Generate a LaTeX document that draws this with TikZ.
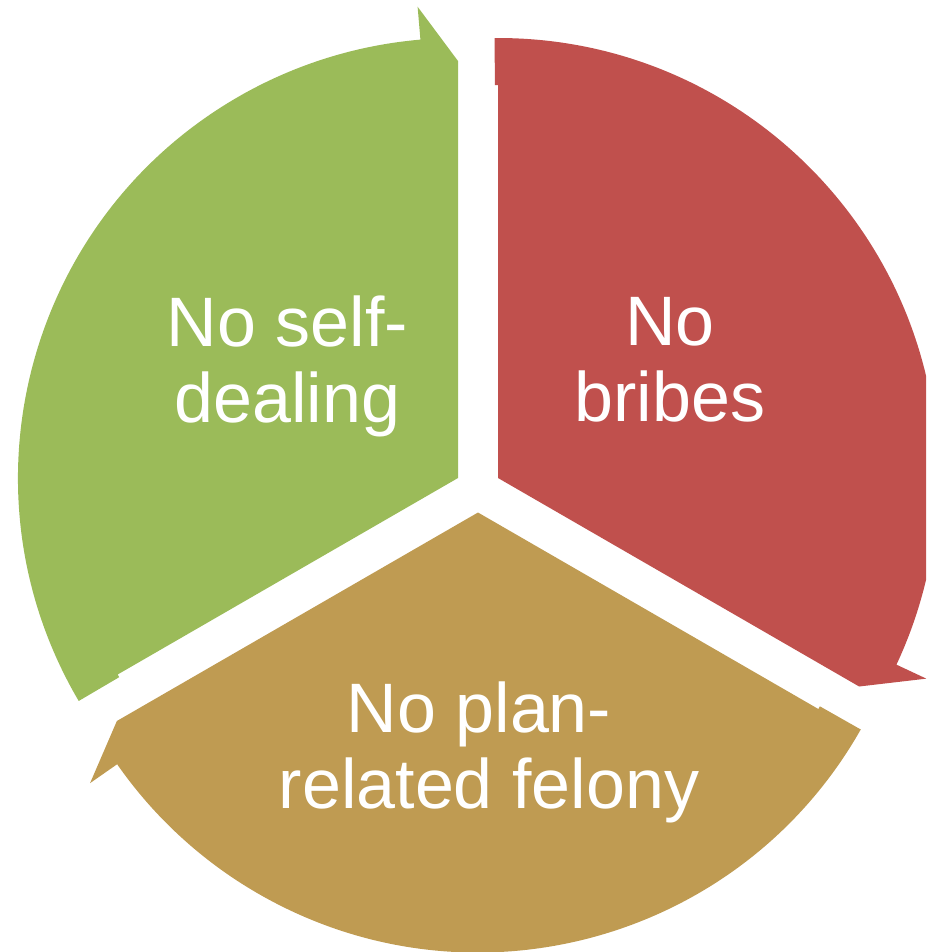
\documentclass[tikz,border=0pt]{standalone}
\usepackage{fontspec}
\setmainfont{Liberation Sans}
\definecolor{segGreen}{HTML}{9BBB59}
\definecolor{segRed}{HTML}{C0504D}
\definecolor{segTan}{HTML}{BF9B52}
\tikzset{
  lbl/.style={text=white, align=center, inner sep=0pt, anchor=base,
    font=\fontsize{70}{76}\selectfont},
}
\begin{document}
\begin{tikzpicture}[x=1pt,y=1pt]
\useasboundingbox (0,0) rectangle (926,-952);
\clip (0,0) rectangle (926,-952);
\coordinate (G) at (458,-478);
\coordinate (R) at (498,-478);
\coordinate (T) at (478,-512.5);
% green segment: clockwise from 210 to 90
\fill[segGreen] (G) -- ([shift={(210:393pt)}]G) -- ([shift={(210.45:393pt)}]G)
  -- ([shift={(210.45:440pt)}]G) arc[start angle=210.45, end angle=94.9, radius=440pt]
  -- ([shift={(94.9:473pt)}]G) -- ([shift={(90:417pt)}]G) -- cycle;
% red segment: clockwise from 90 to -30
\fill[segRed] (R) -- ([shift={(90:393pt)}]R) -- ([shift={(90.45:393pt)}]R)
  -- ([shift={(90.45:440pt)}]R) arc[start angle=90.45, end angle=-25.1, radius=440pt]
  -- ([shift={(-25.1:473pt)}]R) -- ([shift={(-30:417pt)}]R) -- cycle;
% tan segment: clockwise from -30 to -150
\fill[segTan] (T) -- ([shift={(-30:393pt)}]T) -- ([shift={(-29.55:393pt)}]T)
  -- ([shift={(-29.55:440pt)}]T) arc[start angle=-29.55, end angle=-145.1, radius=440pt]
  -- ([shift={(-145.1:473pt)}]T) -- ([shift={(-150:417pt)}]T) -- cycle;
% labels (base anchor = baseline of the last line)
\node[lbl] (tG) at (287.5,-422) {No self-\\dealing};
\node[lbl] (tR) at (670,-421) {No\\bribes};
\node[lbl] (tT) at (489,-808) {\hspace*{-20pt}No plan-\\related felony};
\end{tikzpicture}
\end{document}
